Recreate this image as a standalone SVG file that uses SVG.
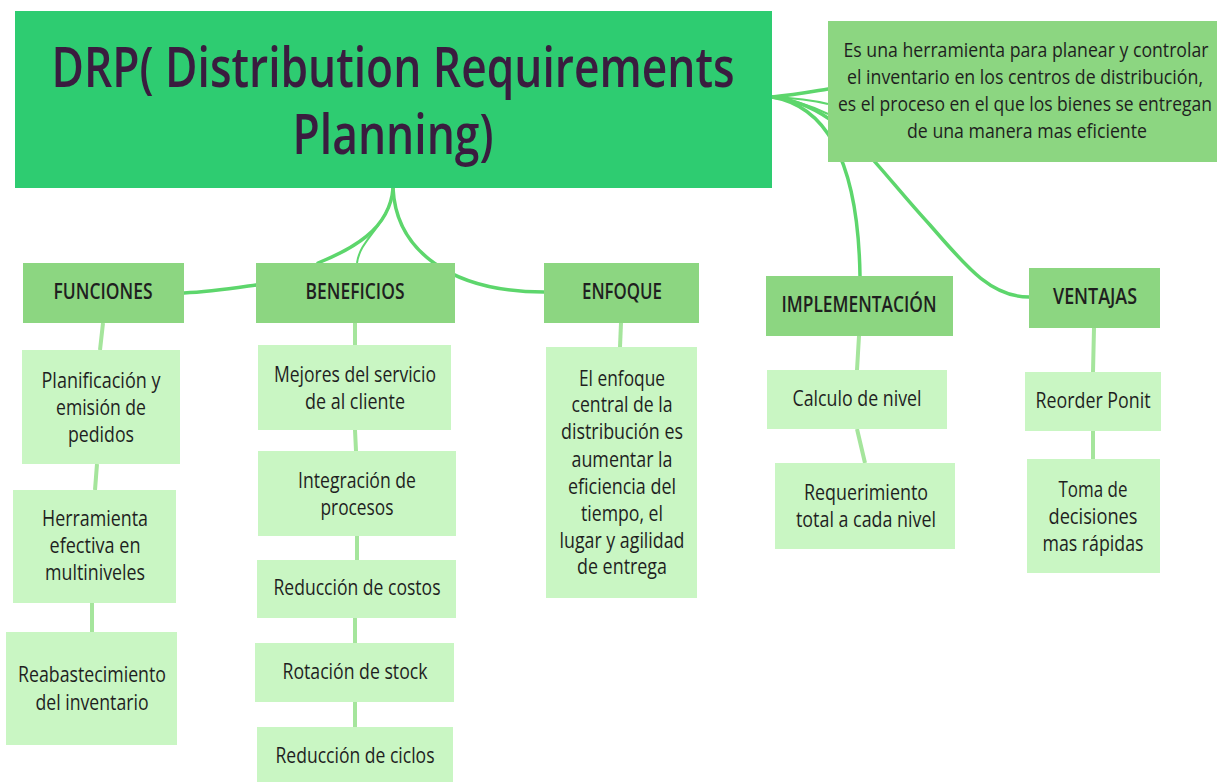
<svg xmlns="http://www.w3.org/2000/svg" width="1217" height="782" viewBox="0 0 1217 782">
<style>
text{font-family:"Open Sans","Liberation Sans",sans-serif;text-anchor:middle;fill:#1f1f1f}
.root{fill:#2ecc71}
.cat{fill:#8cd681}
.leaf{fill:#c9f6c3}
.title{font-size:56px;font-weight:600;fill:#3a1c3f}
.desc{font-size:20px}
.catt{font-size:22px;font-weight:600}
.lt{font-size:22px}
.main{fill:none;stroke:#5dd66c;stroke-width:3.5;stroke-linecap:round}
.thin{fill:none;stroke:#5dd66c;stroke-width:2}
.sub{fill:none;stroke:#a5e59c;stroke-width:4}
</style>
<g id="connectors">
<path class="main" d="M393,188 C390,230 350,250 318,263"/>
<path class="thin" d="M392,198 C382,230 360,240 357,263"/>
<path class="main" d="M393,188 C396,250 450,292 544,292"/>
<path class="main" d="M184,293 C210,292 235,288 256,285"/>
<path class="main" d="M772,97 C795,95 810,92 828,89"/>
<path class="thin" d="M772,97 C795,98 812,100 828,104"/>
<path class="thin" d="M772,97 C795,100 812,106 828,114"/>
<path class="main" d="M772,97 C820,105 858,150 860,276"/>
<path class="main" d="M772,97 C840,105 870,160 930,225 C965,265 990,297 1029,297"/>
<path class="sub" d="M103,323 L100,350 M97,464 L95,490 M92,603 L92,632"/>
<path class="sub" d="M355,323 L355,345 M355,430 L356,451 M357,536 L357,560 M355,618 L355,643 M355,702 L355,727"/>
<path class="sub" d="M621,323 L620,347"/>
<path class="sub" d="M859,336 L857,370 M857,429 L865,463"/>
<path class="sub" d="M1094,328 L1093,372 M1093,431 L1093,459"/>
</g>
<g id="root">
<rect class="root" x="15" y="11" width="757" height="177"/>
<text class="title" x="393" y="87" textLength="683" lengthAdjust="spacingAndGlyphs">DRP( Distribution Requirements</text>
<text class="title" x="393" y="154" textLength="201" lengthAdjust="spacingAndGlyphs">Planning)</text>
</g>
<g id="definicion">
<rect class="cat" x="828" y="21" width="389" height="141"/>
<text class="desc" x="1026" y="57" textLength="365" lengthAdjust="spacingAndGlyphs">Es una herramienta para planear y controlar</text>
<text class="desc" x="1025" y="84" textLength="356" lengthAdjust="spacingAndGlyphs">el inventario en los centros de distribución,</text>
<text class="desc" x="1025" y="111" textLength="374" lengthAdjust="spacingAndGlyphs">es el proceso en el que los bienes se entregan</text>
<text class="desc" x="1027" y="138" textLength="240" lengthAdjust="spacingAndGlyphs">de una manera mas eficiente</text>
</g>
<g id="funciones">
<rect class="cat" x="23" y="263" width="161" height="60"/>
<text class="catt" x="103" y="299" textLength="99" lengthAdjust="spacingAndGlyphs">FUNCIONES</text>
</g>
<g id="beneficios">
<rect class="cat" x="256" y="263" width="199" height="60"/>
<text class="catt" x="355" y="299" textLength="99" lengthAdjust="spacingAndGlyphs">BENEFICIOS</text>
</g>
<g id="enfoque">
<rect class="cat" x="544" y="263" width="155" height="60"/>
<text class="catt" x="622" y="299" textLength="80" lengthAdjust="spacingAndGlyphs">ENFOQUE</text>
</g>
<g id="implementacion">
<rect class="cat" x="766" y="276" width="187" height="60"/>
<text class="catt" x="859" y="312" textLength="155" lengthAdjust="spacingAndGlyphs">IMPLEMENTACIÓN</text>
</g>
<g id="ventajas">
<rect class="cat" x="1029" y="268" width="131" height="60"/>
<text class="catt" x="1095" y="304" textLength="84" lengthAdjust="spacingAndGlyphs">VENTAJAS</text>
</g>
<g id="f1">
<rect class="leaf" x="22" y="350" width="158" height="114"/>
<text class="lt" x="101" y="388" textLength="119" lengthAdjust="spacingAndGlyphs">Planificación y</text>
<text class="lt" x="101" y="415" textLength="90" lengthAdjust="spacingAndGlyphs">emisión de</text>
<text class="lt" x="101" y="442" textLength="66" lengthAdjust="spacingAndGlyphs">pedidos</text>
</g>
<g id="f2">
<rect class="leaf" x="13" y="490" width="163" height="113"/>
<text class="lt" x="95" y="526" textLength="106" lengthAdjust="spacingAndGlyphs">Herramienta</text>
<text class="lt" x="95" y="553" textLength="91" lengthAdjust="spacingAndGlyphs">efectiva en</text>
<text class="lt" x="95" y="580" textLength="100" lengthAdjust="spacingAndGlyphs">multiniveles</text>
</g>
<g id="f3">
<rect class="leaf" x="6" y="632" width="171" height="113"/>
<text class="lt" x="92" y="682" textLength="148" lengthAdjust="spacingAndGlyphs">Reabastecimiento</text>
<text class="lt" x="92" y="710" textLength="113" lengthAdjust="spacingAndGlyphs">del inventario</text>
</g>
<g id="b1">
<rect class="leaf" x="258" y="345" width="193" height="85"/>
<text class="lt" x="355" y="382" textLength="162" lengthAdjust="spacingAndGlyphs">Mejores del servicio</text>
<text class="lt" x="355" y="409" textLength="100" lengthAdjust="spacingAndGlyphs">de al cliente</text>
</g>
<g id="b2">
<rect class="leaf" x="258" y="451" width="198" height="85"/>
<text class="lt" x="357" y="488" textLength="118" lengthAdjust="spacingAndGlyphs">Integración de</text>
<text class="lt" x="357" y="515" textLength="73" lengthAdjust="spacingAndGlyphs">procesos</text>
</g>
<g id="b3">
<rect class="leaf" x="257" y="560" width="199" height="58"/>
<text class="lt" x="357" y="595" textLength="167" lengthAdjust="spacingAndGlyphs">Reducción de costos</text>
</g>
<g id="b4">
<rect class="leaf" x="255" y="643" width="199" height="59"/>
<text class="lt" x="355" y="679" textLength="145" lengthAdjust="spacingAndGlyphs">Rotación de stock</text>
</g>
<g id="b5">
<rect class="leaf" x="257" y="727" width="196" height="55"/>
<text class="lt" x="355" y="763" textLength="159" lengthAdjust="spacingAndGlyphs">Reducción de ciclos</text>
</g>
<g id="e1">
<rect class="leaf" x="546" y="347" width="151" height="251"/>
<text class="lt" x="622" y="386" textLength="86" lengthAdjust="spacingAndGlyphs">El enfoque</text>
<text class="lt" x="622" y="412" textLength="101" lengthAdjust="spacingAndGlyphs">central de la</text>
<text class="lt" x="622" y="439" textLength="122" lengthAdjust="spacingAndGlyphs">distribución es</text>
<text class="lt" x="622" y="467" textLength="101" lengthAdjust="spacingAndGlyphs">aumentar la</text>
<text class="lt" x="622" y="494" textLength="108" lengthAdjust="spacingAndGlyphs">eficiencia del</text>
<text class="lt" x="622" y="521" textLength="82" lengthAdjust="spacingAndGlyphs">tiempo, el</text>
<text class="lt" x="622" y="548" textLength="125" lengthAdjust="spacingAndGlyphs">lugar y agilidad</text>
<text class="lt" x="622" y="574" textLength="90" lengthAdjust="spacingAndGlyphs">de entrega</text>
</g>
<g id="i1">
<rect class="leaf" x="767" y="370" width="180" height="59"/>
<text class="lt" x="857" y="406" textLength="129" lengthAdjust="spacingAndGlyphs">Calculo de nivel</text>
</g>
<g id="i2">
<rect class="leaf" x="775" y="463" width="180" height="86"/>
<text class="lt" x="866" y="500" textLength="124" lengthAdjust="spacingAndGlyphs">Requerimiento</text>
<text class="lt" x="866" y="527" textLength="140" lengthAdjust="spacingAndGlyphs">total a cada nivel</text>
</g>
<g id="v1">
<rect class="leaf" x="1025" y="372" width="136" height="59"/>
<text class="lt" x="1093" y="408" textLength="115" lengthAdjust="spacingAndGlyphs">Reorder Ponit</text>
</g>
<g id="v2">
<rect class="leaf" x="1027" y="459" width="133" height="114"/>
<text class="lt" x="1093" y="497" textLength="69" lengthAdjust="spacingAndGlyphs">Toma de</text>
<text class="lt" x="1093" y="524" textLength="89" lengthAdjust="spacingAndGlyphs">decisiones</text>
<text class="lt" x="1093" y="551" textLength="101" lengthAdjust="spacingAndGlyphs">mas rápidas</text>
</g>
</svg>
